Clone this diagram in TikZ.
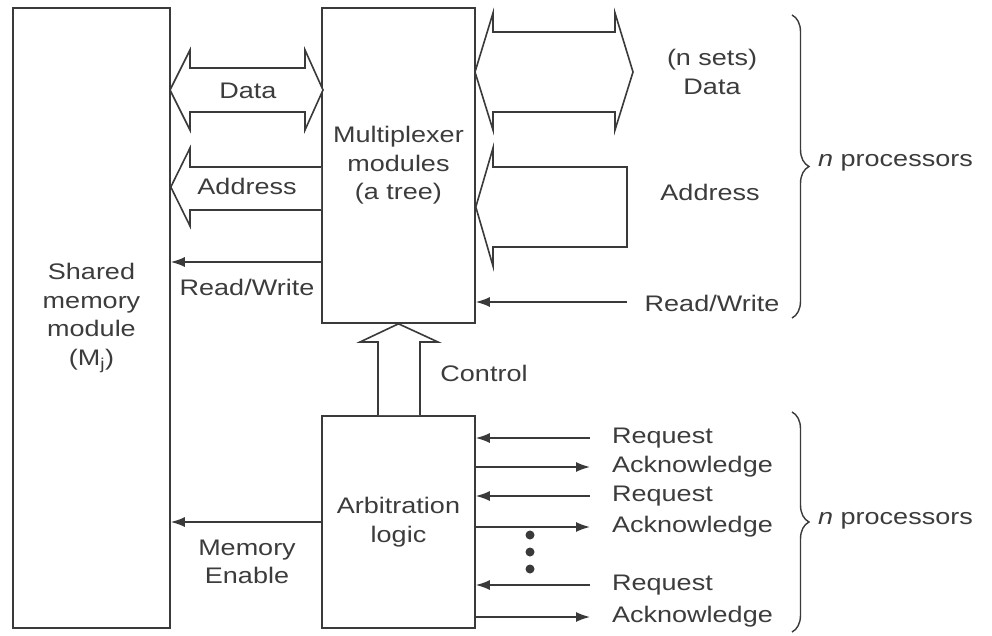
\documentclass[tikz,border=0pt]{standalone}
\usepackage{fontspec}
\setmainfont[FakeStretch=1.2]{Liberation Sans}
\usetikzlibrary{arrows.meta,decorations.pathreplacing,calc}
\definecolor{lc}{HTML}{3A3A3A}
\definecolor{tc}{HTML}{3C3C3C}
\newcommand\lbl{\fontsize{22.5}{28.5}\selectfont}
\begin{document}
\begin{tikzpicture}[x=1pt,y=-1pt,
  box/.style={draw=lc, line width=1.6pt, inner sep=0pt, align=center, font=\lbl, text=tc},
  txt/.style={font=\lbl, text=tc, inner sep=0pt, align=center},
  thin/.style={draw=lc, line width=1.6pt, -{Latex[length=14pt,width=10pt]}},
  hollow/.style={draw=lc, line width=1.6pt, line join=miter, fill=white},
  brc/.style={draw=lc, line width=1.4pt, decorate, decoration={brace, amplitude=17pt}}]
\useasboundingbox[fill=white] (0,0) rectangle (992,636);

% blocks
\node[box, minimum width=157pt, minimum height=620pt] (shared) at (91.5,318) {Shared\\memory\\module\\(M\textsubscript{j})};
\node[box, minimum width=153pt, minimum height=315pt] (mux) at (398.5,165.5) {Multiplexer\\modules\\(a tree)};
\node[box, minimum width=153pt, minimum height=212pt] (arb) at (398.5,522) {Arbitration\\logic};

% hollow bus arrows, left side
\draw[hollow] (170,90) -- (190,50) -- (190,68) -- (305,68) -- (305,50) -- (323,90)
  -- (305,130) -- (305,112) -- (190,112) -- (190,130) -- cycle;
\draw[hollow] (mux.west |- 0,167) -- (190,167) -- (190,148) -- (shared.east |- 0,187)
  -- (190,226) -- (190,210) -- (mux.west |- 0,210);
% hollow bus arrows, right side
\draw[hollow] (475,72) -- (493,13) -- (493,32) -- (615,32) -- (615,13) -- (633,72)
  -- (615,130) -- (615,112) -- (493,112) -- (493,130) -- cycle;
\draw[hollow] (mux.east |- 0,207) -- (493,148) -- (493,167) -- (627,167) -- (627,247)
  -- (493,247) -- (493,266) -- cycle;
% control
\draw[hollow] (arb.north -| 378,0) -- (378,342) -- (360,342) -- (mux.south)
  -- (438,342) -- (420,342) -- (arb.north -| 420,0);

% labels
\node[txt] (ldata) at (248,91) {Data};
\node[txt] (laddr) at (247,186) {Address};
\node[txt] (lrw) at (247,287) {Read/Write};
\node[txt] (rdata) at (712,72) {(n sets)\\Data};
\node[txt] (raddr) at (710,192) {Address};
\node[txt] (rrw) at (712,303) {Read/Write};
\node[txt] (ctrl) at (484,373) {Control};
\node[txt] (men) at (247,562) {Memory\\Enable};

% thin arrows
\draw[thin] (mux.west |- 0,262) -- (shared.east |- 0,262);
\draw[thin] (627,302) -- (mux.east |- 0,302);
\draw[thin] (arb.west |- 0,522) -- (shared.east |- 0,522);

\foreach \y/\n in {438/r1,496/r2,585/r3}{
  \coordinate (\n) at (590,\y);
  \draw[thin] (\n) -- (arb.east |- \n);
  \node[txt, anchor=west] at (612,\y) {Request};
}
\foreach \y/\n in {467/a1,527/a2,617/a3}{
  \coordinate (\n) at (590,\y);
  \draw[thin] (arb.east |- \n) -- (\n);
  \node[txt, anchor=west] at (612,\y) {Acknowledge};
}
\foreach \y in {535,552,569}{\fill[lc] (530,\y) circle (4.5pt);}

% braces
\draw[brc] (792,15) -- (792,318);
\draw[brc] (792,412) -- (792,632);
\node[txt, anchor=west] (np1) at (818,163) {\textit{n} processors};
\node[txt, anchor=west] (np2) at (818,521) {\textit{n} processors};
\end{tikzpicture}
\end{document}
